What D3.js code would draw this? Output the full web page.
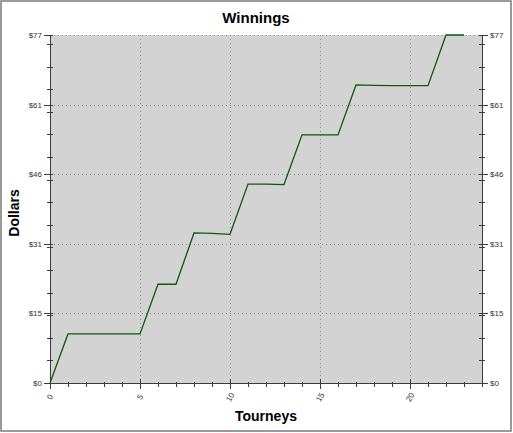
<!DOCTYPE html>
<html>
<head>
<meta charset="utf-8">
<script src="https://cdn.jsdelivr.net/npm/d3@7"></script>
<style>
  html, body { margin: 0; padding: 0; background: #fff; }
  svg { display: block; }
  text { font-family: "Liberation Sans", Arial, sans-serif; }
</style>
</head>
<body>
<script>
// ---- data ----
const tourneys = [0,1,2,3,4,5,6,7,8,9,10,11,12,13,14,15,16,17,18,19,20,21,22,23];
const winnings = [0,10.85,10.85,10.85,10.85,10.85,21.85,21.85,33.2,33.1,32.9,44.0,44.0,43.9,54.9,54.9,54.9,65.95,65.85,65.8,65.8,65.8,77,77];
const xMajorTicks = [0,5,10,15,20];
const xTickLabels = ["0","5","10","15","20"];
const yMajorTicks = [0,15.4,30.8,46.2,61.6,77];
const yTickLabels = ["$0","$15","$31","$46","$61","$77"];
const yMinorStep = 5;
const xDomain = [0,24];
const yDomain = [0,77];
const titleText = "Winnings";
const xTitle = "Tourneys";
const yTitle = "Dollars";

// ---- layout ----
const W = 513, H = 433;
const L = 50, R = 482, T = 35, B = 383;

const svg = d3.select("body").append("svg").attr("width", W).attr("height", H);

// outer frame
svg.append("rect").attr("x", 1).attr("y", 1).attr("width", W - 3).attr("height", H - 3)
  .attr("fill", "#fff").attr("stroke", "#7a7a7a").attr("stroke-width", 1.5);

const x = d3.scaleLinear().domain(xDomain).range([L, R]);
const y = d3.scaleLinear().domain(yDomain).range([B, T]);

// plot background
svg.append("rect").attr("x", L).attr("y", T).attr("width", R - L).attr("height", B - T)
  .attr("fill", "#d3d3d3");

// grid
const grid = svg.append("g").attr("stroke", "#8c8c8c").attr("stroke-width", 1)
  .attr("stroke-dasharray", "1,3").attr("shape-rendering", "crispEdges");
xMajorTicks.filter(d => d > xDomain[0]).forEach(d => {
  grid.append("line").attr("x1", Math.round(x(d)) + 0.5).attr("x2", Math.round(x(d)) + 0.5)
    .attr("y1", T).attr("y2", B);
});
yMajorTicks.filter(d => d > yDomain[0]).forEach(d => {
  grid.append("line").attr("y1", Math.round(y(d)) + 0.5).attr("y2", Math.round(y(d)) + 0.5)
    .attr("x1", L).attr("x2", R);
});

// axes
const axisColor = "#3c3c3c";
const ax = svg.append("g").attr("stroke", axisColor).attr("stroke-width", 1).attr("shape-rendering", "crispEdges");
ax.append("line").attr("x1", L + 0.5).attr("x2", L + 0.5).attr("y1", T).attr("y2", B + 1);
ax.append("line").attr("x1", R + 0.5).attr("x2", R + 0.5).attr("y1", T).attr("y2", B + 1);
ax.append("line").attr("x1", L).attr("x2", R + 1).attr("y1", B + 0.5).attr("y2", B + 0.5);

// y minor ticks
const yMinor = d3.range(yDomain[0], yDomain[1] + 0.001, yMinorStep);
yMinor.forEach(d => {
  const yy = Math.round(y(d)) + 0.5;
  ax.append("line").attr("x1", L - 3).attr("x2", L + 3).attr("y1", yy).attr("y2", yy);
  ax.append("line").attr("x1", R - 3).attr("x2", R + 3).attr("y1", yy).attr("y2", yy);
});
// y major ticks
yMajorTicks.forEach(d => {
  const yy = Math.round(y(d)) + 0.5;
  ax.append("line").attr("x1", L - 6).attr("x2", L + 3).attr("y1", yy).attr("y2", yy);
  ax.append("line").attr("x1", R - 3).attr("x2", R + 6).attr("y1", yy).attr("y2", yy);
});
// x minor ticks
d3.range(xDomain[0], xDomain[1] + 0.001, 1).forEach(d => {
  const xx = Math.round(x(d)) + 0.5;
  ax.append("line").attr("x1", xx).attr("x2", xx).attr("y1", B - 1).attr("y2", B + 4);
});
xMajorTicks.forEach(d => {
  const xx = Math.round(x(d)) + 0.5;
  ax.append("line").attr("x1", xx).attr("x2", xx).attr("y1", B - 4).attr("y2", B + 6);
});

// y tick labels
const lab = svg.append("g").attr("font-size", 8).attr("fill", "#333");
yMajorTicks.forEach((d, i) => {
  lab.append("text").attr("x", L - 8).attr("y", y(d) + 3).attr("text-anchor", "end").text(yTickLabels[i]);
  lab.append("text").attr("x", R + 8).attr("y", y(d) + 3).attr("text-anchor", "start").text(yTickLabels[i]);
});
// x tick labels (rotated)
xMajorTicks.forEach((d, i) => {
  const cx = x(d), cy = 397;
  lab.append("text").attr("transform", `translate(${cx},${cy}) rotate(-60)`)
    .attr("text-anchor", "middle").attr("dy", "0.35em").text(xTickLabels[i]);
});

// line
const line = d3.line().x((d, i) => x(tourneys[i])).y(d => y(d));
svg.append("path").datum(winnings).attr("d", line)
  .attr("fill", "none").attr("stroke", "#0b5a0b").attr("stroke-width", 1.3);

// titles
svg.append("text").attr("x", 256).attr("y", 23).attr("text-anchor", "middle")
  .attr("font-size", 15).attr("font-weight", "bold").attr("fill", "#000").text(titleText);
svg.append("text").attr("x", (L + R) / 2).attr("y", 421).attr("text-anchor", "middle")
  .attr("font-size", 14).attr("font-weight", "bold").attr("fill", "#000").text(xTitle);
svg.append("text").attr("transform", `translate(19,${(T + B) / 2 + 4}) rotate(-90)`)
  .attr("text-anchor", "middle")
  .attr("font-size", 14).attr("font-weight", "bold").attr("fill", "#000").text(yTitle);
</script>
</body>
</html>
